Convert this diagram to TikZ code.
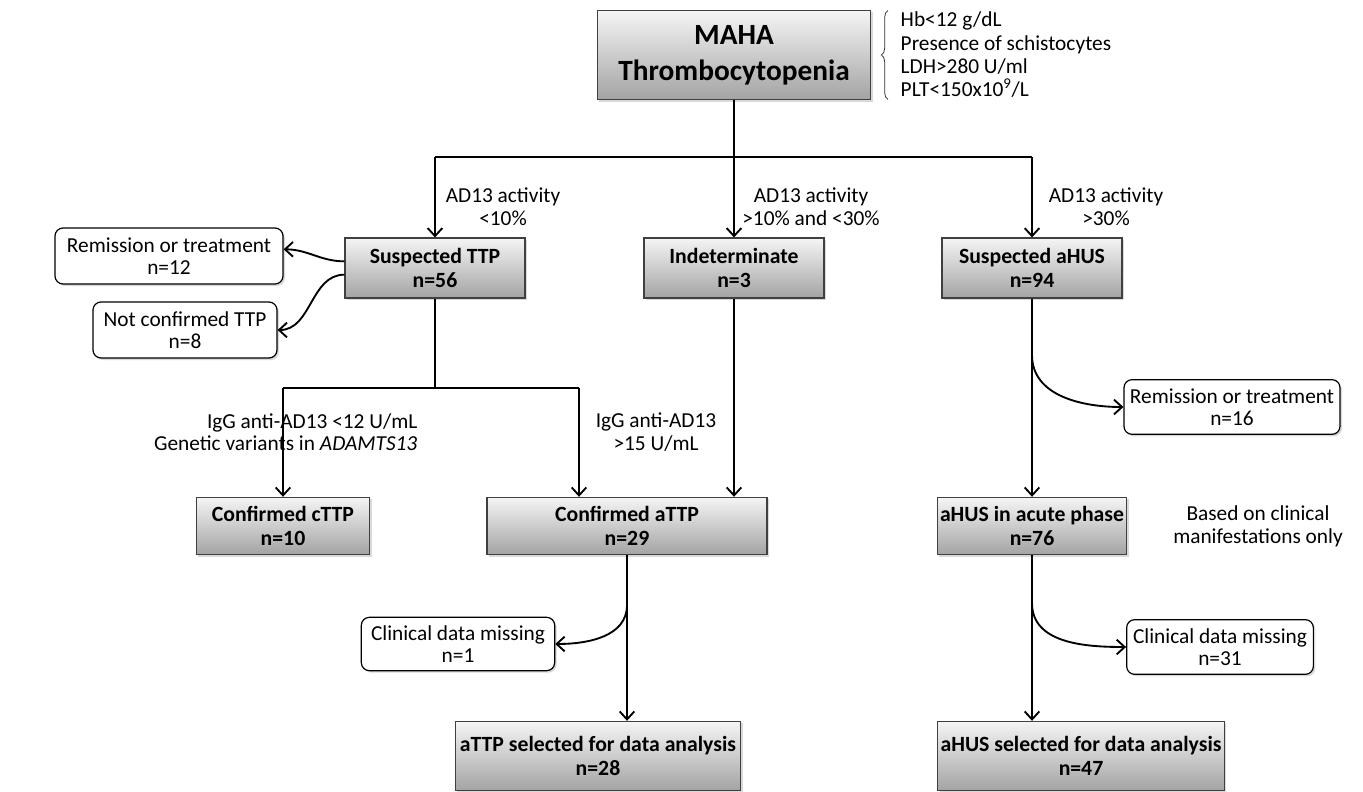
\documentclass[tikz,border=0pt]{standalone}
\usepackage{fontspec}
\setmainfont{Carlito}
\usetikzlibrary{arrows.meta,shadows,decorations.pathreplacing}

\begin{document}
\begin{tikzpicture}[x=0.75pt,y=-0.75pt,>={Straight Barb[length=6pt,width=11pt]},
  every node/.style={font=\fontsize{16}{17}\selectfont,align=center},
  link/.style={line width=1.4pt,black},
  grbox/.style={draw=black!75,line width=0.8pt,top color=black!4,bottom color=black!36,
    drop shadow={shadow xshift=1.5pt,shadow yshift=-1.5pt,opacity=0.3},
    inner sep=2pt,font=\fontsize{16.3}{17.5}\selectfont\bfseries},
  wbox/.style={draw=black,line width=0.9pt,fill=white,rounded corners=6pt,
    drop shadow={shadow xshift=1.5pt,shadow yshift=-1.5pt,opacity=0.3},
    inner sep=2pt,font=\fontsize{16}{16.5}\selectfont}]
\useasboundingbox (0,0) rectangle (1363,792);
% top box and criteria
\node[grbox,minimum width=205pt,minimum height=67pt,font=\fontsize{22}{27}\selectfont\bfseries] (maha) at (734,55) {MAHA\\Thrombocytopenia};
\node[anchor=west,align=left,inner ysep=1pt,font=\fontsize{16}{17.5}\selectfont] (crit) at (896,55) {Hb<12 g/dL\\Presence of schistocytes\\LDH>280 U/ml\\PLT<150x10\textsuperscript{9}/L};
\draw[line width=0.6pt,black!80,decorate,decoration={brace,amplitude=5pt}] ([xshift=-6pt]crit.south west) -- ([xshift=-6pt]crit.north west);
% second row
\node[grbox,minimum width=135pt,minimum height=45pt] (sttp) at (435,268) {Suspected TTP\\n=56};
\node[grbox,minimum width=135pt,minimum height=45pt] (indet) at (734,268) {Indeterminate\\n=3};
\node[grbox,minimum width=135pt,minimum height=45pt] (shus) at (1032,268) {Suspected aHUS\\n=94};
\node[wbox,minimum width=171pt,minimum height=42pt] (rem12) at (169,256) {Remission or treatment\\n=12};
\node[wbox,minimum width=138pt,minimum height=42pt] (notc) at (185,330) {Not confirmed TTP\\n=8};
\node (lab1) at (503,207) {AD13 activity\\<10\%};
\node (lab2) at (811,207) {AD13 activity\\>10\% and <30\%};
\node (lab3) at (1106,207) {AD13 activity\\>30\%};
\coordinate (top) at (734,157);
\draw[link] (maha) -- (top);
\draw[link] (sttp.north |- top) -- (shus.north |- top);
\draw[link,->] (sttp.north |- top) -- (sttp.north);
\draw[link,->] (top) -- (indet.north);
\draw[link,->] (shus.north |- top) -- (shus.north);
\draw[link,->] ([yshift=5pt]sttp.west) to[out=180,in=0] ([yshift=5pt]rem12.east);
\draw[link,->] ([yshift=-5pt]sttp.west) to[out=180,in=0] (notc.east);
% third row
\node[grbox,minimum width=130pt,minimum height=43pt] (cttp) at (283,526) {Confirmed cTTP\\n=10};
\node[grbox,minimum width=210pt,minimum height=43pt] (attp) at (627,526) {Confirmed aTTP\\n=29};
\node[grbox,minimum width=135pt,minimum height=43pt] (acute) at (1032,526) {aHUS in acute phase\\n=76};
\node[wbox,minimum width=162pt,minimum height=41pt] (rem16) at (1232,407) {Remission or treatment\\n=16};
\node[align=right,anchor=east] (lab4) at (422,432) {IgG anti-AD13 <12 U/mL\\Genetic variants in \textit{ADAMTS13}};
\node (lab5) at (656,432) {IgG anti-AD13\\>15 U/mL};
\node (lab6) at (1258,526) {Based on clinical\\manifestations only};
\coordinate (fork) at (435,388);
\coordinate (forkr) at (579,388);
\draw[link] (sttp) -- (fork);
\draw[link] (cttp.north |- fork) -- (forkr);
\draw[link,->] (cttp.north |- fork) -- (cttp.north);
\draw[link,->] (forkr) -- (forkr |- attp.north);
\draw[link,->] (indet) -- (indet |- attp.north);
\draw[link,->] (shus) -- (acute);
\coordinate (b16) at (1032,355);
\draw[link,->] (b16) to[out=-90,in=180] (rem16.west);
% bottom row
\node[wbox,minimum width=145pt,minimum height=40pt] (miss1) at (458,644) {Clinical data missing\\n=1};
\node[wbox,minimum width=140pt,minimum height=41pt] (miss31) at (1220,647) {Clinical data missing\\n=31};
\node[grbox,minimum width=214pt,minimum height=52pt] (selA) at (598,756) {aTTP selected for data analysis\\n=28};
\node[grbox,minimum width=211pt,minimum height=52pt] (selH) at (1081,756) {aHUS selected for data analysis\\n=47};
\draw[link,->] (attp) -- (attp |- selA.north);
\draw[link,->] (acute) -- (acute |- selH.north);
\coordinate (b1) at (627,605);
\coordinate (b31) at (1032,603);
\draw[link,->] (b1) to[out=-90,in=0] (miss1.east);
\draw[link,->] (b31) to[out=-90,in=180] (miss31.west);
\end{tikzpicture}
\end{document}
